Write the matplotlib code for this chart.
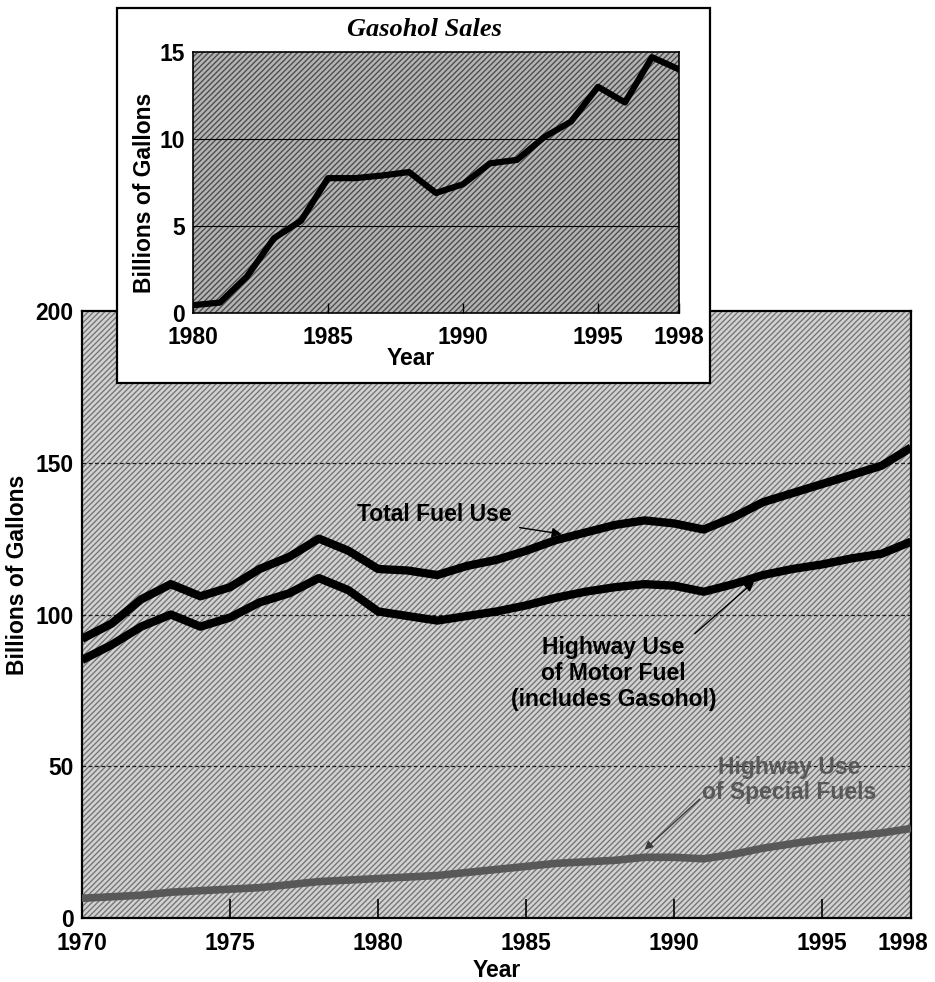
import matplotlib
matplotlib.use("Agg")
import matplotlib.pyplot as plt
import matplotlib.transforms as mtransforms
from matplotlib.patches import Rectangle

plt.rcParams['font.family'] = ['Liberation Sans', 'DejaVu Sans']
plt.rcParams['font.weight'] = 'bold'
plt.rcParams['hatch.linewidth'] = 1.0

# fuel use, billions of gallons
years = list(range(1970, 1999))
total_fuel = [92, 97, 105, 110, 106, 109, 115, 119, 125, 121,
              115, 114.5, 113, 116, 118, 121, 124.5, 127, 129.5, 131,
              130, 128, 132, 137, 140, 143, 146, 149, 155]
highway_motor = [85, 90, 96, 100, 96, 99, 104, 107, 112, 108,
                 101, 99.5, 98, 99.5, 101, 103, 105.5, 107.5, 109, 110,
                 109.5, 107.5, 110, 113, 115, 116.5, 118.5, 120, 124]
special_fuels = [6.5, 7, 7.5, 8.5, 9, 9.5, 10, 11, 12, 12.5,
                 13, 13.5, 14, 15, 16, 17, 18, 18.5, 19, 20,
                 20, 19.5, 21, 23, 24.5, 26, 27, 28, 29.5]

# gasohol sales, billions of gallons
gas_years = list(range(1980, 1999))
gasohol = [0.45, 0.6, 2.1, 4.3, 5.3, 7.75, 7.75, 7.9, 8.1, 6.9,
           7.4, 8.6, 8.8, 10.1, 11.0, 13.0, 12.1, 14.7, 14.0]

main_xticks = [1970, 1975, 1980, 1985, 1990, 1995, 1998]
main_yticks = [0, 50, 100, 150, 200]
gas_xticks = [1980, 1985, 1990, 1995, 1998]
gas_yticks = [0, 5, 10, 15]

W, H = 935, 982
FS = 16.5
fig = plt.figure(figsize=(W / 100, H / 100), dpi=100)


def shade(ax, face, ink):
    # halftone-like diagonal screen behind the data
    ax.set_facecolor(face)
    ax.add_patch(Rectangle((0, 0), 1, 1, transform=ax.transAxes, facecolor=face,
                           edgecolor=ink, hatch='//////', lw=0, zorder=0))


# ---- main chart ----
ax = fig.add_axes([82 / W, 1 - 918 / H, 829 / W, 607 / H])
shade(ax, '#d2d2d2', '#777777')
ax.set_xlim(1970, 1998)
ax.set_ylim(0, 200)
for v in [50, 100, 150]:
    ax.axhline(v, color='#1a1a1a', lw=0.9, ls=(0, (3, 2)), zorder=1)

ax.plot(years, special_fuels, color='#585858', lw=5.5, solid_capstyle='butt', zorder=3)
ax.plot(years, highway_motor, color='black', lw=6, solid_capstyle='butt', zorder=4)
ax.plot(years, total_fuel, color='black', lw=6, solid_capstyle='butt', zorder=4)

ax.set_xticks(main_xticks)
ax.set_yticks(main_yticks)
ax.tick_params(axis='x', direction='in', length=14, width=1.2, labelsize=FS, pad=10)
ax.tick_params(axis='y', length=0, labelsize=FS, pad=6)
# pull the last year label in from the figure edge
last = ax.get_xticklabels()[-1]
last.set_transform(last.get_transform() +
                   mtransforms.ScaledTranslation(-6 / 72, 0, fig.dpi_scale_trans))
for s in ax.spines.values():
    s.set_linewidth(1.6)
ax.set_xlabel('Year', fontsize=FS, fontweight='bold')
ax.xaxis.set_label_coords(0.5, -0.068)
ax.set_ylabel('Billions of Gallons', fontsize=FS, fontweight='bold')
ax.yaxis.set_label_coords(-0.064, 0.565)

ax.annotate('Total Fuel Use', xy=(1986.2, 126.5), xytext=(1984.5, 133),
            fontsize=FS, fontweight='bold', ha='right', va='center',
            arrowprops=dict(arrowstyle='-|>', color='black', lw=1, mutation_scale=14,
                            shrinkA=4, shrinkB=0), zorder=6)
ax.annotate('Highway Use\nof Motor Fuel\n(includes Gasohol)', xy=(1992.7, 110.8),
            xytext=(1987.95, 80.5), fontsize=FS, fontweight='bold', ha='center',
            va='center', linespacing=1.15,
            arrowprops=dict(arrowstyle='-|>', color='black', lw=1, mutation_scale=14,
                            shrinkA=0, shrinkB=0, relpos=(0.88, 1.0)), zorder=6)
ax.annotate('Highway Use\nof Special Fuels', xy=(1989.0, 22.5), xytext=(1993.9, 45.5),
            fontsize=FS, fontweight='bold', color='#585858', ha='center',
            va='center', linespacing=1.1,
            arrowprops=dict(arrowstyle='-|>', color='#3a3a3a', lw=1, mutation_scale=12,
                            shrinkA=0, shrinkB=0, relpos=(0.0, 0.15)), zorder=6)

# ---- gasohol inset ----
fig.patches.append(Rectangle((117 / W, 1 - 383 / H), 593 / W, 375 / H,
                             transform=fig.transFigure, facecolor='white',
                             edgecolor='black', lw=1.6, zorder=2))
fig.text(424 / W, 1 - 29 / H, 'Gasohol Sales', fontsize=19, fontweight='bold',
         style='italic', family='Liberation Serif', ha='center', va='center', zorder=5)

ins = fig.add_axes([193 / W, 1 - 313 / H, 486 / W, 261 / H])
ins.set_zorder(3)
shade(ins, '#b4b4b4', '#4e4e4e')
ins.set_xlim(1980, 1998)
ins.set_ylim(0, 15)
for v in [5, 10]:
    ins.axhline(v, color='black', lw=0.8, zorder=1)
ins.plot(gas_years, gasohol, color='black', lw=4.5, zorder=4)
ins.set_xticks(gas_xticks)
ins.set_yticks(gas_yticks)
ins.tick_params(axis='x', direction='in', length=7, width=1, labelsize=FS, pad=9)
ins.tick_params(axis='y', length=0, labelsize=FS, pad=6)
for s in ins.spines.values():
    s.set_linewidth(1.2)
ins.set_xlabel('Year', fontsize=FS, fontweight='bold')
ins.xaxis.set_label_coords(0.447, -0.132)
ins.set_ylabel('Billions of Gallons', fontsize=FS, fontweight='bold')
ins.yaxis.set_label_coords(-0.076, 0.46)

fig.savefig('out.png', dpi=100)
